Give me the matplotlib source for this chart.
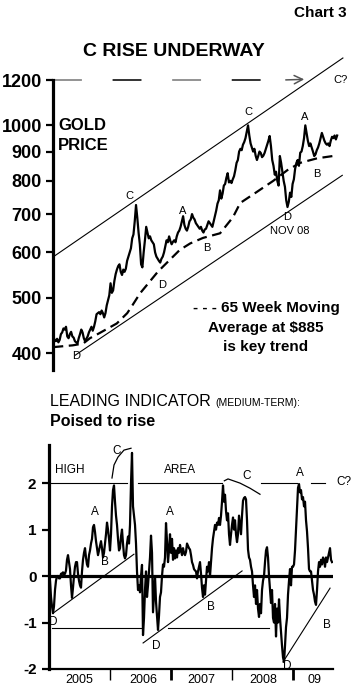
import numpy as np
import matplotlib
matplotlib.use('Agg')
import matplotlib.pyplot as plt
import matplotlib.transforms as mtransforms
from matplotlib import font_manager

W, H, DPI = 356, 699, 100

# ---------------- data ----------------
# weekly gold price (4 obs / month), Jan 2005 .. Aug 2009
gold_2005 = [428, 422, 420, 424, 418, 422, 432, 435, 442, 440, 445, 428,
             425, 432, 436, 428, 426, 420, 418, 416, 425, 432, 440, 435,
             425, 420, 424, 428, 435, 440, 445, 438, 445, 455, 468, 470,
             472, 468, 475, 470, 462, 470, 485, 495, 505, 530, 510, 515]
gold_2006 = [535, 550, 560, 568, 572, 555, 548, 560, 555, 562, 580, 590,
             600, 610, 635, 645, 680, 726, 690, 650, 620, 572, 565, 600,
             630, 665, 650, 635, 640, 630, 625, 620, 600, 590, 585, 580,
             576, 585, 590, 600, 615, 630, 625, 640, 628, 620, 626, 630]
gold_2007 = [625, 640, 650, 655, 665, 680, 694, 670, 660, 655, 665, 680,
             685, 700, 690, 685, 675, 670, 665, 660, 665, 655, 650, 658,
             660, 670, 680, 675, 670, 665, 680, 694, 710, 730, 740, 770,
             745, 760, 785, 790, 810, 825, 795, 800, 793, 805, 815, 835]
gold_2008 = [860, 870, 900, 910, 905, 925, 935, 950, 975, 1000, 960, 930,
             915, 900, 910, 885, 870, 884, 900, 895, 880, 885, 895, 910,
             925, 940, 958, 920, 870, 850, 820, 830, 800, 785, 884, 860,
             830, 800, 781, 740, 720, 735, 763, 750, 790, 805, 840, 860]
gold_2009 = [870, 850, 896, 900, 920, 950, 1000, 970, 940, 920, 930, 915,
             900, 884, 890, 905, 915, 930, 950, 970, 955, 940, 930, 925,
             930, 920, 940, 955, 950, 960, 945, 960]
gold_price = gold_2005 + gold_2006 + gold_2007 + gold_2008 + gold_2009
gold_dates = 2005.07 + np.arange(len(gold_price)) / 48.0

ma_dates = [2005.07, 2005.39, 2005.56, 2005.67, 2005.83, 2006.11, 2006.28,
            2006.37, 2006.49, 2006.78, 2007.14, 2007.31, 2007.52, 2007.80,
            2008.01, 2008.13, 2008.40, 2008.67, 2008.90, 2009.11, 2009.39,
            2009.68]
ma_values = [410, 413, 416, 425, 434, 451, 470, 486, 509, 555, 606, 622,
             636, 648, 691, 732, 765, 800, 835, 860, 876, 885]

# leading indicator (medium-term), Jan 2005 .. Aug 2009
indicator = [
    0.0, -0.1, -0.45, -0.65, -0.8, -0.65, -0.3, -0.1, 0.0, 0.0,
    -0.05, -0.05, 0.05, 0.05, 0.08, 0.03, 0.05, 0.12, 0.35, 0.45,
    0.3, 0.15, -0.2, -0.47, -0.25, 0.0, 0.2, 0.3, 0.3, 0.05,
    -0.1, -0.2, -0.25, 0.1, 0.35, 0.5, 0.6, 0.4, 0.25, 0.2,
    0.45, 0.55, 0.7, 0.8, 1.05, 1.1, 0.95, 0.75, 0.6, 0.45,
    0.55, 0.65, 0.75, 0.6, 0.4, 0.5, 0.7, 0.9, 1.15, 1.0,
    0.8, 0.55, 0.9, 1.5, 1.85, 1.95, 1.6, 1.3, 1.1, 0.8,
    0.55, 0.6, 0.85, 1.0, 0.7, 0.45, 0.38, 0.45, 0.7, 0.85,
    0.7, 1.1, 2.0, 2.65, 1.5, 1.3, 1.1, 0.7, 0.1, -0.3,
    -0.2, -0.35, 0.0, 0.24, -1.27, -0.9, -0.3, 0.1, -0.45, -0.2,
    0.1, 0.4, 0.87, 0.5, -0.78, -0.4, 0.0, -0.55, -0.85, -1.16,
    -0.85, -0.45, -0.35, 0.0, 0.25, 0.2, 0.4, 1.14, 0.75, 0.3,
    0.55, 0.9, 0.5, 0.8, 0.35, 0.6, 0.38, 0.55, 0.4, 0.6,
    0.5, 0.67, 0.55, 0.45, 0.6, 0.5, 0.45, 0.52, 0.7, 0.65,
    0.6, 0.57, 0.45, 0.3, 0.24, 0.15, 0.12, 0.1, -0.05, 0.1,
    0.2, 0.3, 0.05, -0.25, -0.45, -0.2, -0.4, -0.1, 0.2, 0.1,
    0.3, 0.0, 0.3, 0.6, 0.81, 0.95, 1.1, 1.0, 1.15, 1.1,
    1.25, 1.1, 1.3, 1.6, 1.95, 1.6, 1.75, 1.4, 1.2, 1.35,
    0.9, 0.67, 0.9, 1.1, 1.26, 1.0, 1.2, 0.9, 0.73, 0.9,
    1.3, 1.1, 0.9, 1.3, 1.62, 1.68, 1.7, 1.65, 1.2, 0.57,
    0.4, 0.35, 0.2, 0.1, -0.2, -0.45, -0.2, -0.6, -0.3, -0.7,
    -0.88, -0.6, -0.8, -0.3, -0.1, 0.0, 0.3, 0.55, 0.62, 0.4,
    0.0, -0.3, -0.58, -0.3, -0.9, -1.0, -0.6, -1.3, -0.7, -1.0,
    -0.5, -0.9, -1.2, -1.5, -1.75, -1.85, -1.5, -1.1, -0.9, -0.4,
    -0.1, 0.15, -0.2, 0.2, 0.2, 0.25, 0.55, 1.0, 1.5, 1.9,
    1.98, 1.8, 1.85, 1.65, 1.7, 1.5, 1.6, 1.2, 0.96, 0.6,
    0.15, 0.1, 0.1, -0.1, -0.3, -0.4, -0.55, -0.62, -0.3, 0.1,
    0.3, 0.2, 0.35, 0.25, 0.4, 0.35, 0.2, 0.4, 0.3, 0.4,
    0.5, 0.6, 0.35, 0.3]
ind_dates = np.linspace(2005.0, 2009.632, len(indicator))

price_ticks = [400, 500, 600, 700, 800, 900, 1000, 1200]
ind_ticks = [-2, -1, 0, 1, 2]
years = [2006, 2007, 2008, 2009]
year_labels = ['2005', '2006', '2007', '2008', '09']
year_label_pos = [2005.5, 2006.55, 2007.5, 2008.5, 2009.35]

# channel / guide lines
upper_channel = ([2005.065, 2009.81], [589, 1311])
lower_channel = ([2005.43, 2009.80], [397, 818])
target_level = 1200
high_level = 2.0
low_level = -1.12

# ---------------- helpers ----------------
names = {f.name for f in font_manager.fontManager.ttflist}
NARROW = ['Liberation Sans Narrow'] if 'Liberation Sans Narrow' in names else ['Liberation Sans']
SANS = ['Liberation Sans', 'DejaVu Sans']
plt.rcParams['font.family'] = SANS


def fx(px):
    return px / W


def fy(py):
    return 1 - py / H


PX_PER_YR = 61.1


def t_of(px):
    return 2005 + (px - 49) / PX_PER_YR


fig = plt.figure(figsize=(W / DPI, H / DPI), dpi=DPI)
fig.patch.set_facecolor('white')

# ---------------- top panel ----------------
ax1 = fig.add_axes([fx(53), fy(370), fx(345) - fx(53), fy(80) - fy(370)])
ax1.set_yscale('log')
ax1.set_ylim(374, 1200)
ax1.set_xlim(t_of(53), t_of(345))
for s in ['top', 'right', 'bottom']:
    ax1.spines[s].set_visible(False)
ax1.spines['left'].set_linewidth(2.3)
ax1.set_yticks(price_ticks)
ax1.set_yticklabels([str(v) for v in price_ticks], family=NARROW,
                    fontweight='bold', fontsize=13)
ax1.yaxis.set_minor_locator(matplotlib.ticker.NullLocator())
ax1.tick_params(axis='y', direction='out', length=5, width=1.6, pad=3)
ax1.set_xticks([])
ax1.patch.set_alpha(0)

ax1.plot(*upper_channel, color='black', lw=0.8, clip_on=False)
ax1.plot(*lower_channel, color='black', lw=0.8, clip_on=False)
ax1.plot(ma_dates, ma_values, color='black', lw=1.6, dashes=(4.5, 2.5),
         clip_on=False)
ax1.plot(gold_dates, gold_price, color='black', lw=1.6, clip_on=False)

# dashed target line with arrow (alternating grey / black dashes)
t_end = t_of(307)
ax1.plot([t_of(53), t_of(283)], [target_level] * 2, color='#8a8a8a', lw=1.3,
         linestyle=(0, (16, 50)), clip_on=False)
ax1.plot([t_of(53), t_of(283)], [target_level] * 2, color='#222222', lw=1.3,
         linestyle=(33, (16, 50)), clip_on=False)
ax1.annotate('', xy=(t_end, target_level * 1.003), xytext=(t_of(283), target_level),
             arrowprops=dict(arrowstyle='->,head_length=0.6,head_width=0.3',
                             color='#555555', lw=1.1), annotation_clip=False)

lbl = dict(fontsize=8, ha='center', va='center')
ax1.text(2006.31, 753, 'C', **lbl)
ax1.text(2007.18, 708, 'A', **lbl)
ax1.text(2007.59, 611, 'B', **lbl)
ax1.text(2006.85, 526, 'D', **lbl)
ax1.text(2005.44, 395, 'D', clip_on=False, **lbl)
ax1.text(2008.26, 1055, 'C', **lbl)
ax1.text(2009.19, 1034, 'A', **lbl)
ax1.text(2009.39, 822, 'B', **lbl)
ax1.text(2008.90, 691, 'D', **lbl)
ax1.text(2008.94, 654, 'NOV 08', **lbl)
ax1.text(2009.78, 1200, 'C?', fontsize=8, ha='center', va='center', clip_on=False)

fig.text(fx(58), fy(126), 'GOLD', fontsize=12, fontweight='bold', va='center')
fig.text(fx(58), fy(145), 'PRICE', fontsize=12, fontweight='bold', va='center')
fig.text(fx(266), fy(308), '- - - 65 Week Moving', fontsize=11, fontweight='bold',
         ha='center', va='center')
fig.text(fx(266), fy(328), 'Average at $885', fontsize=11, fontweight='bold',
         ha='center', va='center')
fig.text(fx(266), fy(347), 'is key trend', fontsize=11, fontweight='bold',
         ha='center', va='center')

fig.text(fx(347), fy(13), 'Chart 3', fontsize=11, fontweight='bold',
         ha='right', va='center')
fig.text(fx(174), fy(51), 'C RISE UNDERWAY', fontsize=14, fontweight='bold',
         ha='center', va='center')

# ---------------- bottom panel ----------------
t1 = fig.text(fx(50), fy(402), 'LEADING INDICATOR ', fontsize=11.5,
              ha='left', va='center')
fig.canvas.draw()
bb = t1.get_window_extent()
fig.text(bb.x1 / W, fy(403), '(MEDIUM-TERM):', fontsize=7.5, ha='left',
         va='center')
fig.text(fx(50), fy(422), 'Poised to rise', fontsize=11.5, fontweight='bold',
         ha='left', va='center')

ax2 = fig.add_axes([fx(49), fy(669), fx(333) - fx(49), fy(445) - fy(669)])
ax2.set_xlim(2005.0, t_of(333))
ax2.set_ylim(-2, 2.82)
for s in ['top', 'right']:
    ax2.spines[s].set_visible(False)
ax2.spines['left'].set_linewidth(2.3)
ax2.spines['bottom'].set_linewidth(1.6)
ax2.set_yticks(ind_ticks)
ax2.set_yticklabels([str(v) for v in ind_ticks], fontweight='bold', fontsize=11)
ax2.tick_params(axis='y', direction='out', length=5, width=1.6, pad=4)
ax2.set_xticks([])
ax2.patch.set_alpha(0)

ax2.axhline(0, color='black', lw=2.3)

# year separators
for yr, lw in zip(years, [1.0, 2.0, 1.0, 2.0]):
    ax2.plot([yr, yr], [-2, -2.24], color='black', lw=lw, clip_on=False,
             solid_capstyle='butt')
trans = mtransforms.blended_transform_factory(ax2.transData, ax2.transAxes)
for pos, lab in zip(year_label_pos, year_labels):
    ax2.text(pos, -0.047, lab, transform=trans, fontsize=9, ha='center',
             va='center')

# high / low area lines
for a, b in [(2005.0, 2006.277), (2006.457, 2007.831), (2008.47, 2009.059),
             (2009.288, 2009.517)]:
    ax2.plot([a, b], [high_level] * 2, color='black', lw=0.8, clip_on=False)
for a, b in [(2005.05, 2006.52), (2006.95, 2008.60)]:
    ax2.plot([a, b], [low_level] * 2, color='black', lw=0.8)

# diagonal support lines
ax2.plot([2005.065, 2006.39], [-0.80, 0.47], color='black', lw=0.8)
ax2.plot([2006.54, 2008.16], [-1.44, 0.11], color='black', lw=0.8)
ax2.plot([2008.83, 2009.60], [-1.85, -0.26], color='black', lw=0.8)

# arcs
ax2.plot([2006.031, 2006.064, 2006.129, 2006.227, 2006.342],
         [2.11, 2.39, 2.56, 2.71, 2.75], color='black', lw=0.9)
ax2.plot([2007.87, 2007.93, 2008.126, 2008.29, 2008.453],
         [2.05, 2.09, 2.0, 1.89, 1.76], color='black', lw=0.9)

ax2.plot(ind_dates, indicator, color='black', lw=1.6, zorder=3)

lb = dict(fontsize=8.5, ha='center', va='center')
ax2.text(2005.10, 2.28, 'HIGH', fontsize=8.5, ha='left', va='center')
ax2.text(2007.14, 2.28, 'AREA', **lb)
ax2.text(2006.10, 2.69, 'C', **lb)
ax2.text(2008.24, 2.15, 'C', **lb)
ax2.text(2009.11, 2.21, 'A', **lb)
ax2.text(2009.71, 2.02, 'C?', fontsize=8.5, ha='left', va='center', clip_on=False)
ax2.text(2005.75, 1.38, 'A', **lb)
ax2.text(2006.98, 1.38, 'A', **lb)
ax2.text(2005.92, 0.30, 'B', **lb)
ax2.text(2005.07, -0.99, 'D', **lb)
ax2.text(2006.75, -1.50, 'D', **lb)
ax2.text(2007.65, -0.67, 'B', **lb)
ax2.text(2008.90, -1.94, 'D', **lb)
ax2.text(2009.55, -1.05, 'B', **lb)

fig.savefig('out.png', dpi=DPI, facecolor='white')
